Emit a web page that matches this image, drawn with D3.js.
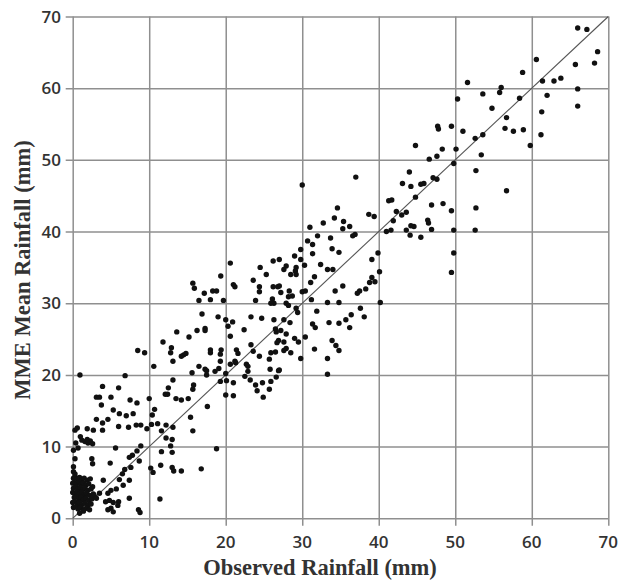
<!DOCTYPE html>
<html><head><meta charset="utf-8">
<script src="https://cdn.jsdelivr.net/npm/d3@7"></script>
<style>body{margin:0;background:#fff}svg{display:block}</style>
</head><body>
<svg id="chart" width="625" height="581"></svg>
<script>
const xTicks = [0,10,20,30,40,50,60,70];
const yTicks = [0,10,20,30,40,50,60,70];
const xTitle = "Observed Rainfall (mm)";
const yTitle = "MME Mean Rainfall (mm)";

// [observed, MME mean] pairs
const nearZeroCluster = [
[0.1,5.6],[0.3,5.8],[0.6,5.5],[0.9,5.7],[1.2,5.4],[1.5,5.6],[1.9,5.3],[2.3,5.5],
[0.0,4.9],[0.2,5.0],[0.5,4.8],[0.8,5.1],[1.1,4.7],[1.4,4.9],[1.7,4.6],[2.1,4.8],[2.6,4.4],
[0.1,4.2],[0.4,4.4],[0.7,4.1],[1.0,4.3],[1.3,4.0],[1.6,4.2],[2.0,3.9],[2.4,4.1],
[0.0,3.6],[0.3,3.5],[0.6,3.7],[0.9,3.4],[1.2,3.6],[1.5,3.3],[1.8,3.5],[2.2,3.2],[2.7,3.4],
[0.2,2.9],[0.5,3.0],[0.8,2.7],[1.1,2.9],[1.4,2.6],[1.7,2.8],[2.1,2.5],[2.5,2.7],
[0.0,2.2],[0.3,2.3],[0.6,2.0],[0.9,2.2],[1.2,1.9],[1.6,2.1],[2.0,1.8],[2.4,2.0],
[0.1,1.5],[0.4,1.6],[0.7,1.3],[1.0,1.5],[1.4,1.2],[1.8,1.4],
[0.9,0.7],[1.4,1.0],[2.2,1.2],
[0.1,6.5],[0.3,6.2],[0.1,7.2],[0.3,8.3],[0.1,9.5],[0.7,9.8],[0.4,10.5],[0.3,12.3],[0.6,12.6],[1.0,11.4],
[1.2,10.9],[1.6,10.7],[2.0,10.5],[2.3,10.8],[2.6,10.4],[1.9,11.0]
];
const lowRange = [
[0.95,20.0],[6.85,19.9],[8.5,23.4],[9.4,23.1],[3.9,18.4],[6.0,18.2],[3.1,16.9],[3.5,16.9],[5.0,16.9],
[7.5,16.5],[8.4,16.1],[3.75,15.8],[5.3,15.1],[6.1,14.6],[7.0,14.3],[7.9,14.6],[3.1,13.8],[3.9,13.3],
[4.6,13.8],[2.7,12.3],[3.9,12.3],[1.9,12.5],[6.0,12.8],[7.3,12.7],[8.3,13.0],[8.9,13.0],[9.7,12.5],
[5.6,9.8],[8.9,10.1],[8.4,9.4],[7.8,8.8],[7.4,8.5],[2.5,8.3],[2.6,7.6],[4.9,7.7],[8.7,8.0],[7.6,7.1],
[6.8,6.8],[6.5,6.2],[6.1,5.4],[7.4,5.3],[6.6,4.6],[4.0,5.3],[5.7,4.1],[5.0,3.9],[4.6,3.5],[3.5,3.5],
[2.8,3.2],[3.1,2.8],[4.3,2.3],[4.8,2.5],[5.3,2.2],[6.0,2.3],[5.9,1.8],[7.4,2.8],[4.6,1.2],[5.3,0.9],
[5.0,1.4],[8.6,1.2],[8.8,0.8]
];
const midRange = [
[10.6,21.2],[11.8,24.6],[13.6,26.0],[12.9,23.8],[12.8,23.1],[13.1,21.9],[13.1,19.3],[10.0,16.7],
[12.5,18.2],[12.1,17.3],[12.4,17.3],[13.5,16.7],[10.7,15.2],[10.4,14.4],[10.3,13.1],[11.1,13.2],
[12.2,13.0],[13.1,12.7],
[17.5,20.0],[20.0,20.2],[23.2,19.3],[23.9,18.6],[24.8,18.9],[25.9,19.1],[24.1,17.8],[25.7,18.0],
[24.9,16.9],[19.3,19.1],[20.1,19.2],[21.0,18.9],[20.0,17.2],[21.0,17.1],[15.8,18.6],[15.7,18.0],
[14.2,16.5],[15.1,16.7],[17.6,15.6],[15.4,14.1],[15.7,12.2],[11.6,12.2],[12.2,11.2],[13.0,11.0],
[12.8,10.1],[13.0,9.2],[11.6,9.3],[18.8,9.7],[10.2,7.0],[10.5,6.4],[11.5,7.4],[13.0,7.1],[13.2,6.6],
[14.2,6.6],[16.8,6.9],[11.4,2.7],
[20.6,35.6],[19.35,33.8],[15.7,32.8],[15.9,32.1],[17.2,31.4],[18.3,31.7],[18.8,31.7],[16.5,30.4],
[18.0,30.5],[19.7,30.4],[21.0,32.6],[21.2,32.3],[24.5,35.0],[25.3,34.0],[23.6,33.2],[24.4,32.3],
[24.4,31.6],[23.9,30.4],[16.9,28.5],[19.0,28.1],[20.0,27.7],[20.3,26.8],[20.9,27.4],[23.3,28.1],
[24.7,27.9],[22.4,26.3],[17.3,26.5],[17.3,26.2],[16.25,26.2],[15.2,25.3],[14.5,22.8],[14.2,22.6],
[14.8,23.0],[20.6,25.4],[18.0,23.5],[18.0,23.1],[19.4,23.5],[19.3,22.9],[21.4,23.5],[21.6,23.0],
[21.2,21.9],[23.3,24.2],[23.6,23.3],[24.4,22.6],[16.5,21.2],[17.3,20.8],[17.5,20.6],[19.3,21.9],
[19.1,20.9],[18.6,20.5],[20.6,21.5],[21.3,21.7],[22.7,21.5],[22.9,21.2],[22.9,20.5],[22.5,19.8],
[15.6,20.3]
];
const upperMidRange = [
[30.0,46.5],[37.0,47.6],[34.6,43.3],[38.7,42.4],[39.4,42.1],[32.75,41.2],[34.2,41.9],[35.4,41.4],
[36.2,40.7],[35.3,40.4],[36.6,39.4],[36.9,39.6],[31.0,40.6],[32.0,39.4],[30.7,38.7],[31.35,38.2],
[31.35,36.9],[29.8,37.5],[29.8,36.1],[33.7,39.1],[33.9,37.6],[34.8,37.1],[29.0,36.6],[29.2,35.0],
[29.1,34.5],[30.3,35.3],[32.4,35.4],[33.3,34.7],[34.0,34.7],[39.1,36.1],[39.9,37.0],[40.1,34.4],
[39.1,33.6],[39.5,33.0],[38.8,32.9],[38.3,32.0],[37.5,31.7],[37.2,31.4],[31.6,33.7],[31.1,32.9],
[30.0,31.6],[30.4,31.7],[27.9,35.2],[27.6,34.7],[27.0,36.1],[26.2,35.9],[28.5,34.0],[29.2,34.0],
[27.0,32.4],[27.2,31.5],[28.3,31.7],[28.7,31.0],[28.2,30.9],[26.2,32.3],[26.8,32.3],[26.1,30.6],
[26.3,30.0],[25.9,30.0],[27.9,30.0],[28.2,29.7],[29.2,29.3],[29.4,28.7],[31.2,30.5],[33.3,30.1],
[34.8,30.1],[34.3,31.7],[35.3,32.4],[40.2,30.1],[31.9,28.9],[31.35,27.1],[31.7,26.6],[33.5,27.3],
[34.8,27.2],[35.7,27.7],[36.4,28.4],[36.2,26.6],[37.6,29.3],[38.1,28.1],[28.4,27.3],[27.6,27.7],
[26.3,27.7],[26.5,26.4],[27.2,26.2],[26.6,26.0],[27.9,25.7],[26.9,24.8],[29.0,25.1],[29.5,24.6],
[30.4,25.3],[27.6,24.6],[27.9,23.7],[27.6,23.4],[28.5,23.1],[26.7,24.5],[26.5,23.2],[25.9,23.1],
[33.9,24.8],[34.4,24.1],[34.8,23.4],[31.6,23.6],[29.8,22.3],[33.3,22.3],[25.7,22.2],[25.8,20.8],
[26.9,20.6],[26.6,19.7],[27.0,20.7],[33.3,20.1]
];
const highRange = [
[66.0,68.4],[67.2,68.2],[68.6,65.1],[68.2,63.5],[65.7,63.3],[66.0,59.9],[66.0,57.5],[60.6,64.0],
[58.8,62.2],[61.4,61.0],[62.9,61.0],[63.8,61.4],[62.0,59.0],[61.3,56.7],[61.2,53.5],[51.6,60.8],
[53.6,59.2],[55.8,59.4],[56.0,60.1],[50.3,58.5],[58.4,58.6],[54.8,57.2],[56.7,55.9],[56.5,54.4],
[57.6,54.0],[58.9,54.2],[59.8,52.0],[53.6,53.5],[52.6,53.0],[53.4,50.7],[52.7,48.5],[56.7,45.7],
[52.7,43.3],[49.5,54.7],[51.0,54.0],[47.7,54.7],[47.8,54.3],[50.1,51.5],[48.3,51.5],[44.8,52.0],
[47.6,50.5],[46.6,50.1],[49.8,49.5],[44.0,48.3],[47.1,47.5],[47.6,47.3],[43.1,46.7],[44.2,46.3],
[45.5,46.6],[45.9,46.7],[44.8,44.8],[41.3,44.3],[41.7,44.4],[42.3,42.8],[43.0,42.3],[43.6,42.7],
[46.9,43.7],[48.4,43.9],[49.5,42.9],[41.9,41.5],[41.0,40.0],[41.6,40.2],[43.6,40.2],[44.1,39.5],
[44.6,40.7],[44.2,40.8],[45.5,39.2],[46.4,41.6],[46.5,41.2],[46.9,40.3],[49.8,40.2],[52.6,40.2],
[49.8,37.0],[49.5,34.3]
];

const allPoints = [].concat(nearZeroCluster, lowRange, midRange, upperMidRange, highRange);

const svg = d3.select("#chart");
const x = d3.scaleLinear().domain([0,70]).range([72.7,608.3]);
const y = d3.scaleLinear().domain([0,70]).range([518.3,16.5]);
const gridColor = "#8f8f8f";

// vertical grid lines with bottom tick
const xAxis = d3.axisBottom(x).tickValues(xTicks).tickSize(-(y(0)-y(70)) ).tickFormat("");
svg.append("g").attr("transform",`translate(0,${y(0)})`).call(xAxis)
  .call(g=>g.select(".domain").remove())
  .selectAll("line").attr("stroke",gridColor).attr("stroke-width",1.5).attr("y2",-(y(0)-y(70))).attr("y1",7.5);
const yAxis = d3.axisLeft(y).tickValues(yTicks).tickSize(-(x(70)-x(0))).tickFormat("");
svg.append("g").attr("transform",`translate(${x(0)},0)`).call(yAxis)
  .call(g=>g.select(".domain").remove())
  .selectAll("line").attr("stroke",gridColor).attr("stroke-width",1.5).attr("x2",x(70)-x(0)).attr("x1",-7);

// tick labels
const tickFont = "'Open Sans', 'DejaVu Sans', sans-serif";
svg.append("g").selectAll("text").data(xTicks).join("text")
  .attr("x",d=>x(d)).attr("y",548).attr("text-anchor","middle")
  .attr("font-family",tickFont).attr("font-weight",600).attr("font-size",17).attr("fill","#333")
  .text(d=>d);
svg.append("g").selectAll("text").data(yTicks).join("text")
  .attr("x",61).attr("y",d=>y(d)+6).attr("text-anchor","end")
  .attr("font-family",tickFont).attr("font-weight",600).attr("font-size",17).attr("fill","#333")
  .text(d=>d);

// 1:1 line
svg.append("line").attr("x1",x(0)).attr("y1",y(0)).attr("x2",x(70)).attr("y2",y(70))
  .attr("stroke","#555").attr("stroke-width",1.1);

// points
svg.append("g").selectAll("circle").data(allPoints).join("circle")
  .attr("cx",d=>x(d[0])).attr("cy",d=>y(d[1])).attr("r",2.7).attr("fill","#111");

// titles
svg.append("text").attr("x",320).attr("y",575).attr("text-anchor","middle")
  .attr("font-family","'Liberation Serif','Times New Roman',serif").attr("font-weight","bold")
  .attr("font-size",22.5).attr("fill","#333").text(xTitle);
svg.append("text").attr("transform","translate(30,270) rotate(-90)").attr("text-anchor","middle")
  .attr("font-family","'Liberation Serif','Times New Roman',serif").attr("font-weight","bold")
  .attr("font-size",22.5).attr("fill","#333").text(yTitle);
</script>
</body></html>
